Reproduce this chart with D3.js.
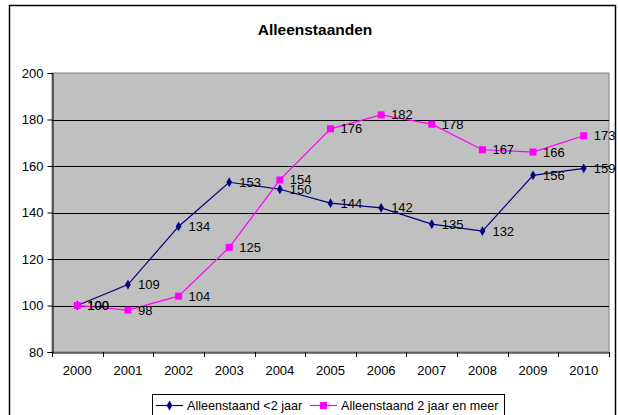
<!DOCTYPE html>
<html><head><meta charset="utf-8">
<script src="https://cdn.jsdelivr.net/npm/d3@7"></script>
<style>body{margin:0;background:#fff;}svg{display:block;font-family:Arial,"Liberation Sans",sans-serif;}</style>
</head><body>
<script>
const years = ["2000","2001","2002","2003","2004","2005","2006","2007","2008","2009","2010"];
const seriesNames = ["Alleenstaand <2 jaar","Alleenstaand 2 jaar en meer"];
const under2 = [100,109,134,153,150,144,142,135,132,156,159];
const over2 = [100,98,104,125,154,176,182,178,167,166,173];
const yTicks = [80,100,120,140,160,180,200];
const colors = ["#000080","#FF00FF"];

const W=618,H=415;
const svg=d3.select("body").append("svg").attr("width",W).attr("height",H);
svg.append("rect").attr("x",9.5).attr("y",5.5).attr("width",606).attr("height",412).attr("fill","#fff").attr("stroke","#000").attr("stroke-width",1.5);
svg.append("text").attr("x",315).attr("y",35).attr("text-anchor","middle").attr("font-size",15.5).attr("font-weight","bold").text("Alleenstaanden");

const L=52,R=609,T=73,B=352;
const x=d3.scaleBand().domain(years).range([L,R]);
const y=d3.scaleLinear().domain([80,200]).range([B,T]);
svg.append("rect").attr("x",L).attr("y",T).attr("width",R-L).attr("height",B-T).attr("fill","#C0C0C0").attr("stroke","#808080");
const g=svg.append("g");
g.selectAll("line.grid").data(yTicks.filter(v=>v>80&&v<200)).join("line")
 .attr("x1",L).attr("x2",R).attr("y1",d=>Math.round(y(d))+0.5).attr("y2",d=>Math.round(y(d))+0.5).attr("stroke","#000");
// axes
const ya=svg.append("g").attr("transform",`translate(${L+0.5},0)`).call(d3.axisLeft(y).tickValues(yTicks).tickSize(5).tickPadding(4));
const xa=svg.append("g").attr("transform",`translate(0,${B+0.5})`).call(d3.axisBottom(x).tickSize(0).tickPadding(13));
[ya,xa].forEach(a=>{a.selectAll("text").attr("font-size",13).attr("fill","#000").attr("font-family","Arial,'Liberation Sans',sans-serif");a.select(".domain").attr("stroke","#000");a.selectAll(".tick line").attr("stroke","#000");});
// x boundary ticks
const bounds=years.map(d=>x(d)).concat([R]);
svg.append("g").selectAll("line").data(bounds).join("line").attr("x1",d=>Math.round(d)+0.5).attr("x2",d=>Math.round(d)+0.5).attr("y1",B).attr("y2",B+5).attr("stroke","#000");

const cx=d=>x(d)+x.bandwidth()/2;
const data=[under2,over2];
data.forEach((vals,i)=>{
  const pts=years.map((yr,j)=>[cx(yr),y(vals[j]),vals[j]]);
  svg.append("path").attr("d",d3.line()(pts.map(p=>[p[0],p[1]]))).attr("fill","none").attr("stroke",colors[i]).attr("stroke-width",1.2);
  if(i===0){
    svg.append("g").selectAll("path").data(pts).join("path").attr("d",d3.symbol(d3.symbolDiamond,28)()).attr("transform",p=>`translate(${p[0]},${p[1]})`).attr("fill",colors[i]);
  } else {
    svg.append("g").selectAll("rect").data(pts).join("rect").attr("x",p=>p[0]-3.5).attr("y",p=>p[1]-3.5).attr("width",7).attr("height",7).attr("fill",colors[i]);
  }
});
data.forEach((vals,i)=>{
  svg.append("g").selectAll("text").data(years).join("text").attr("x",d=>cx(d)+10).attr("y",(d,j)=>y(vals[j])+4.5).attr("font-size",13).attr("fill","#000").text((d,j)=>vals[j]);
});
// legend
svg.append("rect").attr("x",152.5).attr("y",394.5).attr("width",352).attr("height",22).attr("fill","#fff").attr("stroke","#000");
const lx=[156,310];
seriesNames.forEach((n,i)=>{
  svg.append("line").attr("x1",lx[i]).attr("x2",lx[i]+27).attr("y1",405.5).attr("y2",405.5).attr("stroke",colors[i]).attr("stroke-width",1.2);
  if(i===0) svg.append("path").attr("d",d3.symbol(d3.symbolDiamond,28)()).attr("transform",`translate(${lx[i]+13.5},405.5)`).attr("fill",colors[i]);
  else svg.append("rect").attr("x",lx[i]+10).attr("y",402).attr("width",7).attr("height",7).attr("fill",colors[i]);
  svg.append("text").attr("x",lx[i]+31).attr("y",410).attr("font-size",12.6).text(n);
});
</script>
</body></html>
